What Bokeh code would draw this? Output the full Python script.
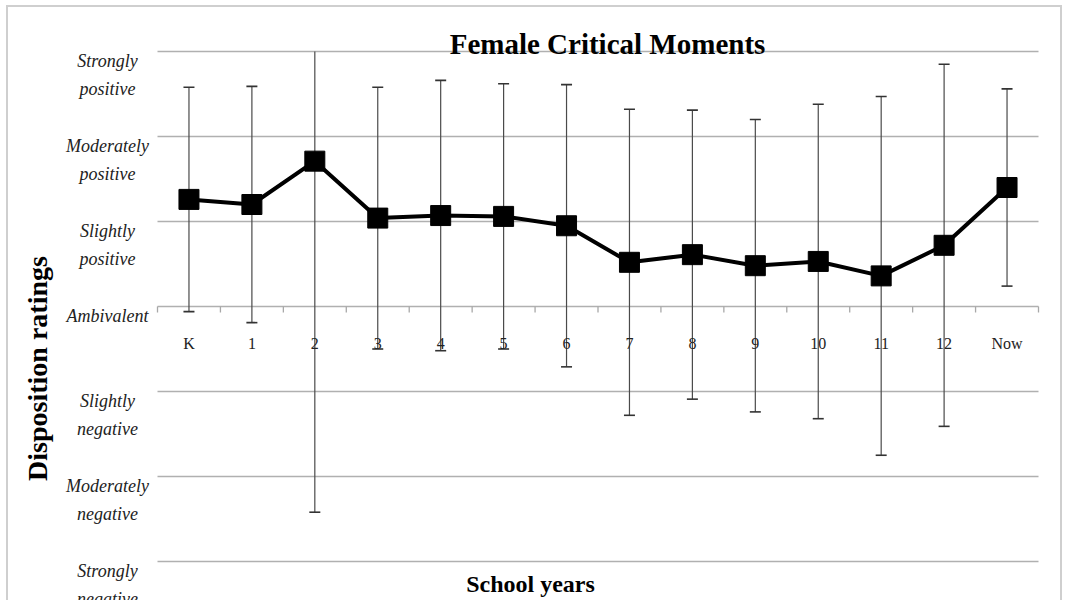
from bokeh.plotting import figure
from bokeh.models import Range1d
from bokeh.core.properties import value
from bokeh.embed import file_html
from bokeh.resources import INLINE
import math

categories = ["K", "1", "2", "3", "4", "5", "6", "7", "8", "9", "10", "11", "12", "Now"]
means = [1.26, 1.20, 1.71, 1.04, 1.07, 1.06, 0.95, 0.52, 0.61, 0.48, 0.53, 0.36, 0.72, 1.40]
errors = [1.32, 1.39, 4.13, 1.54, 1.59, 1.56, 1.66, 1.80, 1.70, 1.72, 1.85, 2.11, 2.13, 1.16]
y_ticks = [3, 2, 1, 0, -1, -2, -3]
y_tick_labels = ["Strongly\npositive", "Moderately\npositive", "Slightly\npositive", "Ambivalent",
                 "Slightly\nnegative", "Moderately\nnegative", "Strongly\nnegative"]
title = "Female Critical Moments"
x_title = "School years"
y_title = "Disposition ratings"

# ---- layout (pixels inside the canvas) ----
W, H = 1056, 595
CW, CH = W, H
PL, PT = 149, 44          # plot area offset inside canvas
PW, PH = 881, 510         # plot area size

n = len(categories)
ymin, ymax = min(y_ticks), max(y_ticks)
ux = PW / n                      # px per x unit
uy = PH / (ymax - ymin)          # px per y unit
x0 = -PL / ux
x1 = n + (CW - PL - PW) / ux
y1 = ymax + PT / uy
y0 = ymin - (CH - PT - PH) / uy

def dx(px):
    return px / ux

def dy(px):
    return px / uy

xs = [i + 0.5 for i in range(n)]
lo = [m - e for m, e in zip(means, errors)]
hi = [m + e for m, e in zip(means, errors)]
lo_c = [max(v, ymin) for v in lo]
hi_c = [min(v, ymax) for v in hi]
cap_hi_x = [x for x, v in zip(xs, hi) if v <= ymax]
cap_hi_y = [v for v in hi if v <= ymax]
cap_lo_x = [x for x, v in zip(xs, lo) if v >= ymin]
cap_lo_y = [v for v in lo if v >= ymin]

p = figure(width=W, height=H, output_backend="svg", toolbar_location=None,
           x_range=Range1d(x0, x1), y_range=Range1d(y0, y1),
           x_axis_location=None, y_axis_location=None,
           min_border=0, min_border_left=0, min_border_right=0,
           min_border_top=0, min_border_bottom=0,
           styles={"border-top": "2px solid #cfcfcf", "border-left": "2px solid #cfcfcf",
                   "border-right": "2px solid #cfcfcf",
                   "margin-left": "6px", "margin-top": "5px"})
p.outline_line_color = None
p.background_fill_color = "white"
p.xgrid.visible = False
p.ygrid.visible = False

serif = "Liberation Serif"
grid_col = "#b0b0b0"

# horizontal gridlines
p.segment(x0=[0] * len(y_ticks), y0=y_ticks, x1=[n] * len(y_ticks), y1=y_ticks,
          line_color=grid_col, line_width=1.3)
# x axis ticks at category boundaries (axis line sits on Ambivalent)
bx = list(range(n + 1))
p.segment(x0=bx, y0=[0] * len(bx), x1=bx, y1=[-dy(6)] * len(bx), line_color="#a8a8a8", line_width=1.3)

# error bars
p.segment(x0=xs, y0=lo_c, x1=xs, y1=hi_c, line_color="#4a4a4a", line_width=1.2)
p.scatter(cap_hi_x, cap_hi_y, marker="dash", size=11, line_color="#333333", line_width=1.6)
p.scatter(cap_lo_x, cap_lo_y, marker="dash", size=11, line_color="#333333", line_width=1.6)

# series
p.line(xs, means, line_color="black", line_width=4)
p.scatter(xs, means, marker="square", size=20, fill_color="black", line_color="black")

# category labels
p.text(x=xs, y=[-dy(37)] * n, text=categories, text_align="center", text_baseline="middle",
       text_font=value(serif), text_font_size="16px", text_color="#222222")

# y tick labels
p.text(x=[-dx(50)] * len(y_ticks), y=[t + dy(1) for t in y_ticks], text=y_tick_labels,
       text_align="center", text_baseline="top", text_line_height=1.4,
       text_font=value(serif), text_font_style="italic", text_font_size="18px",
       text_color="#222222")

# titles
p.text(x=[dx(450)], y=[ymax + dy(8)], text=[title], text_align="center", text_baseline="middle",
       text_font=value(serif), text_font_style="bold", text_font_size="29px", text_color="black")
p.text(x=[dx(373)], y=[ymin - dy(22)], text=[x_title], text_align="center", text_baseline="middle",
       text_font=value(serif), text_font_style="bold", text_font_size="24px", text_color="black")
p.text(x=[-dx(120)], y=[-dy(62)], text=[y_title], angle=math.pi / 2,
       text_align="center", text_baseline="middle",
       text_font=value(serif), text_font_style="bold", text_font_size="28px", text_color="black")

open("out.html", "w").write(file_html(p, INLINE))
